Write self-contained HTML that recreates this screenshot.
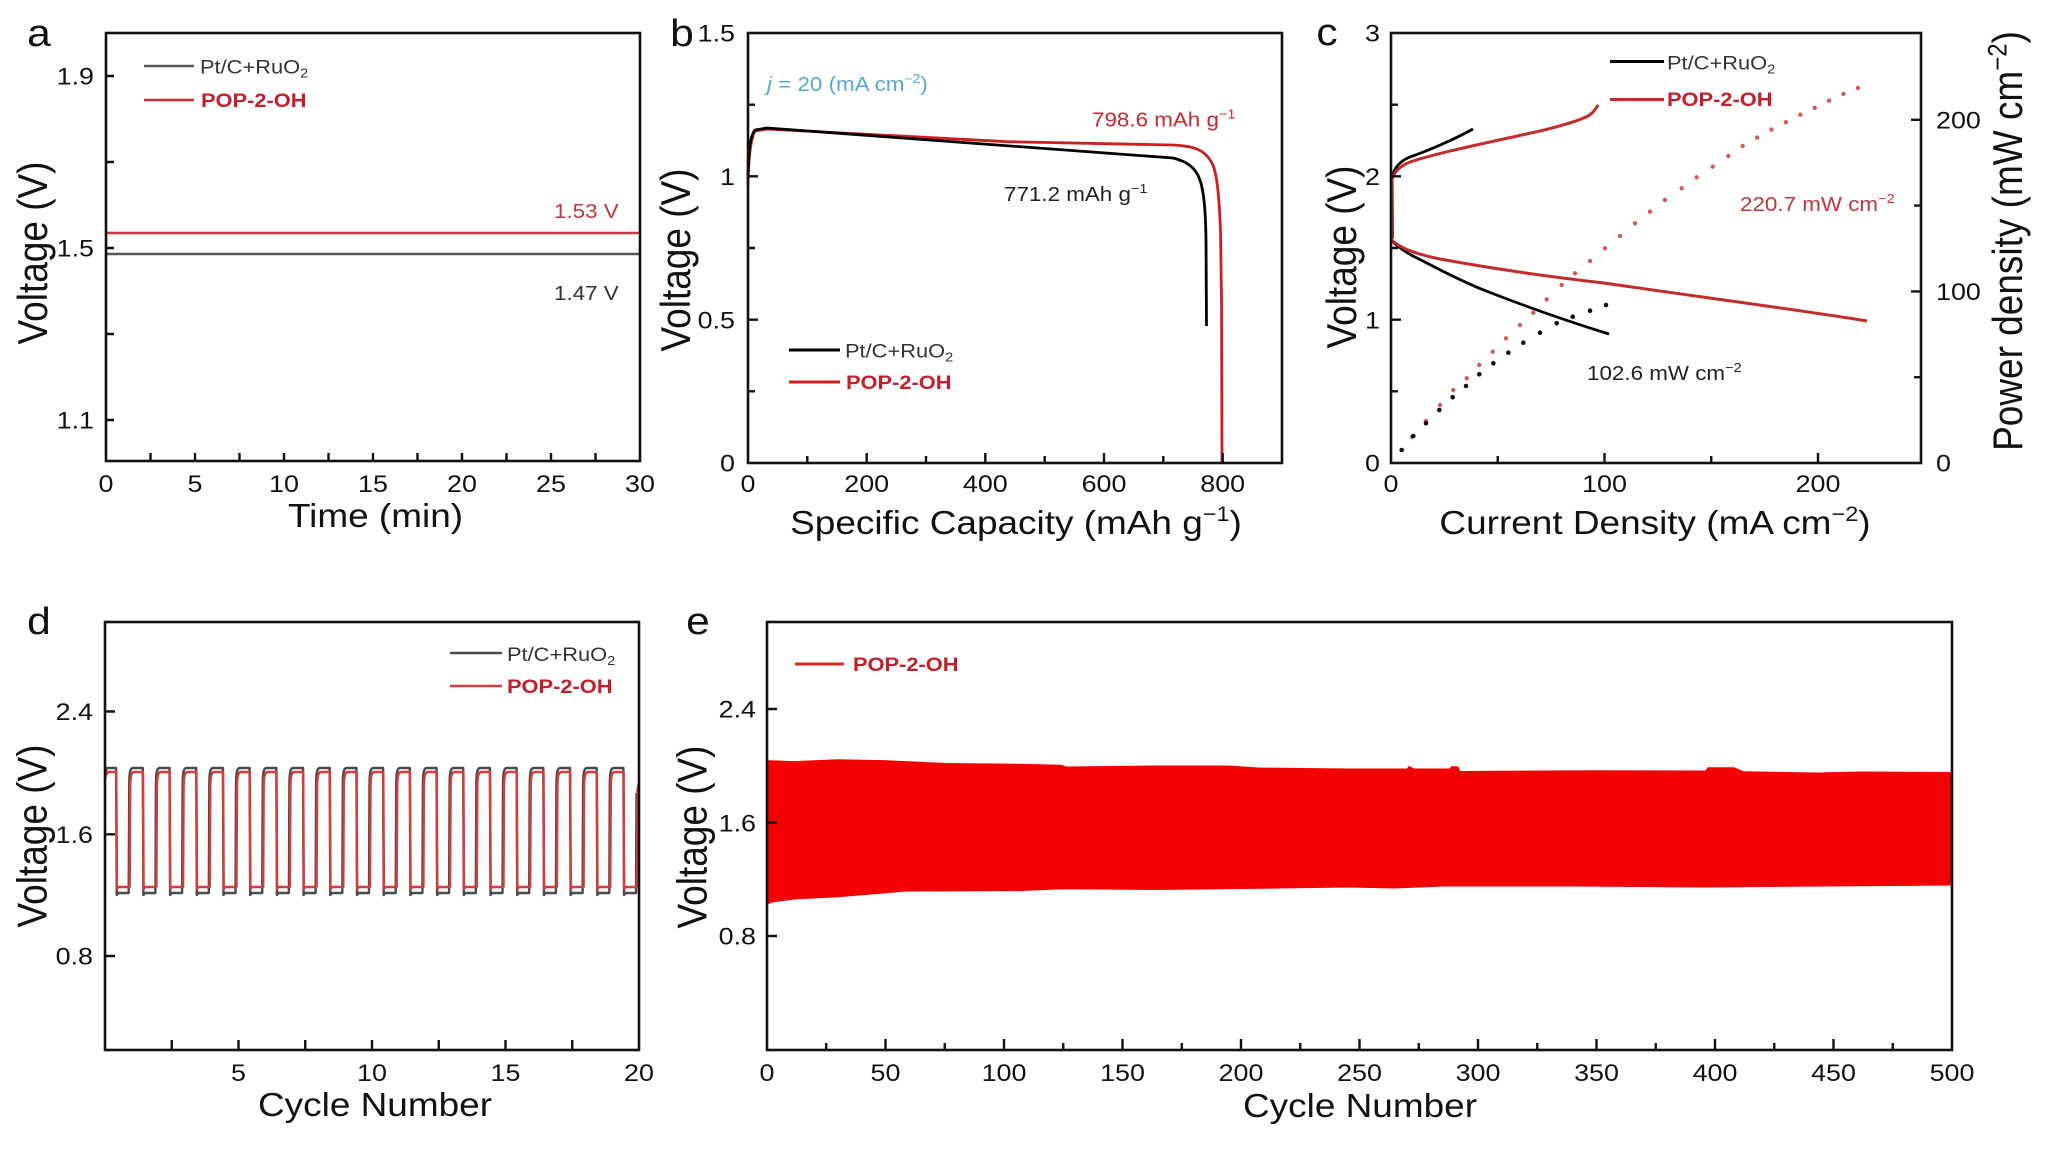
<!DOCTYPE html>
<html><head><meta charset="utf-8"><style>
html,body{margin:0;padding:0;background:#fff;}
svg{display:block;}
text{font-family:"Liberation Sans",Arial,sans-serif;}
.tk{font-size:24px;fill:#111}
.xt{font-size:33px;fill:#111}
.yt{font-size:37px;fill:#111}
.lg{font-size:19.5px;fill:#333}
.lgr{font-size:19.5px;font-weight:bold;fill:#c41e2a}
.an{font-size:20px}
.pl{font-size:38px;fill:#111}
.fr{fill:none;stroke:#111;stroke-width:2.6}
.tc{fill:none;stroke:#111;stroke-width:2.4}
</style></head><body>
<svg width="2048" height="1151" viewBox="0 0 2048 1151" xmlns="http://www.w3.org/2000/svg">
<rect width="2048" height="1151" fill="#fff"/>

<!-- ================= Panel a ================= -->
<line x1="106" y1="233" x2="640" y2="233" stroke="#c8323c" stroke-width="2.6"/>
<line x1="106" y1="254" x2="640" y2="254" stroke="#555" stroke-width="2.6"/>
<rect class="fr" x="106" y="33" width="534" height="428"/>
<path class="tc" d="M150.5,461v-8M195,461v-8M239.5,461v-8M284,461v-8M328.5,461v-8M373,461v-8M417.5,461v-8M462,461v-8M506.5,461v-8M551,461v-8M595.5,461v-8M106,420h8M106,334h8M106,248h8M106,162h8M106,76h8"/>
<g class="tk" text-anchor="middle">
<text transform="translate(106 492) scale(1.12 1)">0</text>
<text transform="translate(195 492) scale(1.12 1)">5</text>
<text transform="translate(284 492) scale(1.12 1)">10</text>
<text transform="translate(373 492) scale(1.12 1)">15</text>
<text transform="translate(462 492) scale(1.12 1)">20</text>
<text transform="translate(551 492) scale(1.12 1)">25</text>
<text transform="translate(640 492) scale(1.12 1)">30</text>
</g>
<g class="tk" text-anchor="end">
<text transform="translate(94 428.6) scale(1.12 1)">1.1</text>
<text transform="translate(94 256.6) scale(1.12 1)">1.5</text>
<text transform="translate(94 84.6) scale(1.12 1)">1.9</text>
</g>
<text class="xt" text-anchor="middle" transform="translate(375.5 527) scale(1.12 1)">Time (min)</text>
<text class="yt" text-anchor="middle" transform="translate(47 253) scale(1.12 1) rotate(-90)">Voltage (V)</text>
<text class="pl" text-anchor="middle" transform="translate(39 46) scale(1.12 1)">a</text>
<line x1="144" y1="66" x2="194" y2="66" stroke="#555" stroke-width="2.6"/>
<text class="lg" transform="translate(200 73.5) scale(1.12 1)">Pt/C+RuO<tspan dy="4" font-size="13">2</tspan></text>
<line x1="144" y1="100" x2="194" y2="100" stroke="#c8323c" stroke-width="2.6"/>
<text class="lgr" transform="translate(201 107) scale(1.12 1)">POP-2-OH</text>
<text class="an" fill="#c0363b" font-size="19" transform="translate(554 218) scale(1.12 1)">1.53 V</text>
<text class="an" fill="#333" font-size="19" transform="translate(554 300) scale(1.12 1)">1.47 V</text>

<!-- ================= Panel b ================= -->
<path fill="none" stroke="#d01c1c" stroke-width="2.8" d="M748,185 C748.5,160 750,140 755,131 L767,129 L1007,141.7 L1173,145 C1195,146 1205,150 1212,163 C1217,173 1219,195 1220.5,230 L1221.5,300 L1222,463"/>
<path fill="none" stroke="#000" stroke-width="2.8" d="M748,178 C748.5,150 750,136 755,130 L767,128 L1173,158 C1185,161 1195,166 1200,180 C1204,192 1205.5,210 1206,240 L1206.5,326"/>
<rect class="fr" x="748" y="33" width="534" height="430"/>
<path class="tc" d="M807.3,463v-7M866.7,463v-10M926,463v-7M985.3,463v-10M1044.7,463v-7M1104,463v-10M1163.3,463v-7M1222.7,463v-10M748,391.3h7M748,319.7h10M748,248h7M748,176.3h10M748,104.7h7"/>
<g class="tk" text-anchor="middle">
<text transform="translate(748 492) scale(1.12 1)">0</text>
<text transform="translate(866.7 492) scale(1.12 1)">200</text>
<text transform="translate(985.3 492) scale(1.12 1)">400</text>
<text transform="translate(1104 492) scale(1.12 1)">600</text>
<text transform="translate(1222.7 492) scale(1.12 1)">800</text>
</g>
<g class="tk" text-anchor="end">
<text transform="translate(735 41.6) scale(1.12 1)">1.5</text>
<text transform="translate(735 185) scale(1.12 1)">1</text>
<text transform="translate(735 328.3) scale(1.12 1)">0.5</text>
<text transform="translate(735 471.6) scale(1.12 1)">0</text>
</g>
<text class="xt" text-anchor="middle" transform="translate(1016 534) scale(1.12 1)">Specific Capacity (mAh g<tspan dy="-13" font-size="21">−1</tspan><tspan dy="13">)</tspan></text>
<text class="yt" text-anchor="middle" transform="translate(690 260) scale(1.12 1) rotate(-90)">Voltage (V)</text>
<text class="pl" text-anchor="middle" transform="translate(682 46) scale(1.12 1)">b</text>
<text class="an" fill="#55a9d1" font-size="19.5" transform="translate(767 91) scale(1.12 1)"><tspan font-style="italic">j</tspan> = 20 (mA cm<tspan dy="-8" font-size="12.5">−2</tspan><tspan dy="8">)</tspan></text>
<text class="an" fill="#c8282d" transform="translate(1092 126.5) scale(1.12 1)">798.6 mAh g<tspan dy="-8" font-size="13">−1</tspan></text>
<text class="an" fill="#222" transform="translate(1004 201) scale(1.12 1)">771.2 mAh g<tspan dy="-8" font-size="13">−1</tspan></text>
<line x1="789" y1="350" x2="840" y2="350" stroke="#000" stroke-width="3"/>
<text class="lg" fill="#222" transform="translate(845 357.5) scale(1.12 1)">Pt/C+RuO<tspan dy="4" font-size="13">2</tspan></text>
<line x1="789" y1="382" x2="840" y2="382" stroke="#d01c1c" stroke-width="3"/>
<text class="lgr" transform="translate(846 389) scale(1.12 1)">POP-2-OH</text>

<!-- ================= Panel c ================= -->
<g fill="#d25a5a">
<circle cx="1412" cy="437" r="2.2"/><circle cx="1426" cy="421" r="2.2"/><circle cx="1440" cy="405" r="2.2"/><circle cx="1453.3" cy="390" r="2.2"/><circle cx="1466.7" cy="378.3" r="2.2"/><circle cx="1479.3" cy="365" r="2.2"/><circle cx="1492.7" cy="351.7" r="2.2"/><circle cx="1506" cy="338.3" r="2.2"/><circle cx="1520" cy="325" r="2.2"/><circle cx="1533.3" cy="312.7" r="2.2"/><circle cx="1546.7" cy="299.3" r="2.2"/><circle cx="1561.7" cy="285" r="2.2"/><circle cx="1575" cy="273.3" r="2.2"/><circle cx="1590" cy="261" r="2.2"/><circle cx="1605" cy="248.3" r="2.2"/><circle cx="1620" cy="236" r="2.2"/><circle cx="1635" cy="223.3" r="2.2"/><circle cx="1650" cy="211.7" r="2.2"/><circle cx="1665" cy="200" r="2.2"/><circle cx="1681.7" cy="188.3" r="2.2"/><circle cx="1696.7" cy="177.3" r="2.2"/><circle cx="1712.7" cy="166.7" r="2.2"/><circle cx="1728.3" cy="156" r="2.2"/><circle cx="1742.7" cy="146" r="2.2"/><circle cx="1757.1" cy="137.6" r="2.2"/><circle cx="1771.5" cy="129.6" r="2.2"/><circle cx="1785.9" cy="122.2" r="2.2"/><circle cx="1800.3" cy="114.7" r="2.2"/><circle cx="1814.7" cy="107.8" r="2.2"/><circle cx="1829.1" cy="100.7" r="2.2"/><circle cx="1843.5" cy="93.9" r="2.2"/><circle cx="1857.9" cy="88" r="2.2"/>
</g>
<g fill="#111">
<circle cx="1401.7" cy="450" r="2.3"/><circle cx="1413.3" cy="436" r="2.3"/><circle cx="1426" cy="423.3" r="2.3"/><circle cx="1439.3" cy="410" r="2.3"/><circle cx="1452.7" cy="397.3" r="2.3"/><circle cx="1466" cy="386" r="2.3"/><circle cx="1479.3" cy="374.3" r="2.3"/><circle cx="1493.3" cy="363.3" r="2.3"/><circle cx="1508.3" cy="352.7" r="2.3"/><circle cx="1523.3" cy="342.7" r="2.3"/><circle cx="1540" cy="332.7" r="2.3"/><circle cx="1556.7" cy="323.3" r="2.3"/><circle cx="1572.7" cy="316.7" r="2.3"/><circle cx="1590" cy="310.7" r="2.3"/><circle cx="1606" cy="305" r="2.3"/>
</g>
<path fill="none" stroke="#000" stroke-width="2.8" d="M1392.5,238 L1392,180 C1393,168 1400,161 1410,157 C1430,150 1455,139 1473,129"/>
<path fill="none" stroke="#000" stroke-width="2.8" d="M1391,239.5 C1398,248 1410,255 1423,261 C1440,270 1465,283 1490,292.5 C1530,308 1570,322 1609,334"/>
<path fill="none" stroke="#c42c2c" stroke-width="3" d="M1392,240 L1391.5,182 C1393,172 1400,166 1410,162 C1440,152 1500,140 1540,131 C1565,125 1580,120 1588,116 C1593,113 1596,109 1598.1,104.8"/>
<path fill="none" stroke="#c42c2c" stroke-width="3" d="M1391,239.5 C1400,248 1415,254 1440,259 C1500,270 1560,278 1604,283 C1700,297 1800,310 1867,321"/>
<rect class="fr" x="1391" y="33" width="530" height="430"/>
<path class="tc" d="M1497.75,463v-7M1604.5,463v-10M1711.25,463v-7M1818,463v-10M1391,391.3h7M1391,319.7h10M1391,248h7M1391,176.3h10M1391,104.7h7M1921,377.2h-7M1921,291.4h-10M1921,205.6h-7M1921,119.8h-10"/>
<g class="tk" text-anchor="middle">
<text transform="translate(1391 492) scale(1.12 1)">0</text>
<text transform="translate(1604.5 492) scale(1.12 1)">100</text>
<text transform="translate(1818 492) scale(1.12 1)">200</text>
</g>
<g class="tk" text-anchor="end">
<text transform="translate(1380 41.6) scale(1.12 1)">3</text>
<text transform="translate(1380 185) scale(1.12 1)">2</text>
<text transform="translate(1380 328.3) scale(1.12 1)">1</text>
<text transform="translate(1380 471.6) scale(1.12 1)">0</text>
</g>
<g class="tk">
<text transform="translate(1936 471.6) scale(1.12 1)">0</text>
<text transform="translate(1936 300) scale(1.12 1)">100</text>
<text transform="translate(1936 128.6) scale(1.12 1)">200</text>
</g>
<text class="xt" text-anchor="middle" transform="translate(1655 534) scale(1.12 1)">Current Density (mA cm<tspan dy="-13" font-size="21">−2</tspan><tspan dy="13">)</tspan></text>
<text class="yt" text-anchor="middle" transform="translate(1356 257) scale(1.12 1) rotate(-90)">Voltage (V)</text>
<text class="yt" font-size="37.5" text-anchor="middle" transform="translate(2022 241) scale(1.12 1) rotate(-90)">Power density (mW cm<tspan dy="-14" font-size="24">−2</tspan><tspan dy="14">)</tspan></text>
<text class="pl" text-anchor="middle" transform="translate(1327 45) scale(1.12 1)">c</text>
<line x1="1610" y1="61.5" x2="1664" y2="61.5" stroke="#000" stroke-width="3"/>
<text class="lg" fill="#222" transform="translate(1667 69.5) scale(1.12 1)">Pt/C+RuO<tspan dy="4" font-size="13">2</tspan></text>
<line x1="1610" y1="99.5" x2="1664" y2="99.5" stroke="#c42c2c" stroke-width="3"/>
<text class="lgr" transform="translate(1667 106) scale(1.12 1)">POP-2-OH</text>
<text class="an" fill="#c0363b" font-size="19.7" transform="translate(1740 211) scale(1.12 1)">220.7 mW cm<tspan dy="-8" font-size="13">−2</tspan></text>
<text class="an" fill="#222" font-size="19.8" transform="translate(1587 380) scale(1.12 1)">102.6 mW cm<tspan dy="-8" font-size="13">−2</tspan></text>

<!-- ================= Panel d ================= -->
<path fill="none" stroke="#4a4a4a" stroke-width="2.4" stroke-linejoin="round" d="M105,775 L106.5,768 h9.6 l0.6,127 l1.4,-2 h10.6 l0.5,-107 c0,-14 1,-18 4,-18 h9.6 l0.6,127 l1.4,-2 h10.6 l0.5,-107 c0,-14 1,-18 4,-18 h9.6 l0.6,127 l1.4,-2 h10.6 l0.5,-107 c0,-14 1,-18 4,-18 h9.6 l0.6,127 l1.4,-2 h10.6 l0.5,-107 c0,-14 1,-18 4,-18 h9.6 l0.6,127 l1.4,-2 h10.6 l0.5,-107 c0,-14 1,-18 4,-18 h9.6 l0.6,127 l1.4,-2 h10.6 l0.5,-107 c0,-14 1,-18 4,-18 h9.6 l0.6,127 l1.4,-2 h10.6 l0.5,-107 c0,-14 1,-18 4,-18 h9.6 l0.6,127 l1.4,-2 h10.6 l0.5,-107 c0,-14 1,-18 4,-18 h9.6 l0.6,127 l1.4,-2 h10.6 l0.5,-107 c0,-14 1,-18 4,-18 h9.6 l0.6,127 l1.4,-2 h10.6 l0.5,-107 c0,-14 1,-18 4,-18 h9.6 l0.6,127 l1.4,-2 h10.6 l0.5,-107 c0,-14 1,-18 4,-18 h9.6 l0.6,127 l1.4,-2 h10.6 l0.5,-107 c0,-14 1,-18 4,-18 h9.6 l0.6,127 l1.4,-2 h10.6 l0.5,-107 c0,-14 1,-18 4,-18 h9.6 l0.6,127 l1.4,-2 h10.6 l0.5,-107 c0,-14 1,-18 4,-18 h9.6 l0.6,127 l1.4,-2 h10.6 l0.5,-107 c0,-14 1,-18 4,-18 h9.6 l0.6,127 l1.4,-2 h10.6 l0.5,-107 c0,-14 1,-18 4,-18 h9.6 l0.6,127 l1.4,-2 h10.6 l0.5,-107 c0,-14 1,-18 4,-18 h9.6 l0.6,127 l1.4,-2 h10.6 l0.5,-107 c0,-14 1,-18 4,-18 h9.6 l0.6,127 l1.4,-2 h10.6 l0.5,-107 c0,-14 1,-18 4,-18 h9.6 l0.6,127 l1.4,-2 h10.6 l0.5,-100"/>
<path fill="none" stroke="#d43c3f" stroke-width="2.4" stroke-linejoin="round" d="M105,778 L107.5,772 h8.8 l0.6,117 l1.4,-2 h11.4 l0.5,-97 c0,-14 1,-18 4,-18 h8.8 l0.6,117 l1.4,-2 h11.4 l0.5,-97 c0,-14 1,-18 4,-18 h8.8 l0.6,117 l1.4,-2 h11.4 l0.5,-97 c0,-14 1,-18 4,-18 h8.8 l0.6,117 l1.4,-2 h11.4 l0.5,-97 c0,-14 1,-18 4,-18 h8.8 l0.6,117 l1.4,-2 h11.4 l0.5,-97 c0,-14 1,-18 4,-18 h8.8 l0.6,117 l1.4,-2 h11.4 l0.5,-97 c0,-14 1,-18 4,-18 h8.8 l0.6,117 l1.4,-2 h11.4 l0.5,-97 c0,-14 1,-18 4,-18 h8.8 l0.6,117 l1.4,-2 h11.4 l0.5,-97 c0,-14 1,-18 4,-18 h8.8 l0.6,117 l1.4,-2 h11.4 l0.5,-97 c0,-14 1,-18 4,-18 h8.8 l0.6,117 l1.4,-2 h11.4 l0.5,-97 c0,-14 1,-18 4,-18 h8.8 l0.6,117 l1.4,-2 h11.4 l0.5,-97 c0,-14 1,-18 4,-18 h8.8 l0.6,117 l1.4,-2 h11.4 l0.5,-97 c0,-14 1,-18 4,-18 h8.8 l0.6,117 l1.4,-2 h11.4 l0.5,-97 c0,-14 1,-18 4,-18 h8.8 l0.6,117 l1.4,-2 h11.4 l0.5,-97 c0,-14 1,-18 4,-18 h8.8 l0.6,117 l1.4,-2 h11.4 l0.5,-97 c0,-14 1,-18 4,-18 h8.8 l0.6,117 l1.4,-2 h11.4 l0.5,-97 c0,-14 1,-18 4,-18 h8.8 l0.6,117 l1.4,-2 h11.4 l0.5,-97 c0,-14 1,-18 4,-18 h8.8 l0.6,117 l1.4,-2 h11.4 l0.5,-97 c0,-14 1,-18 4,-18 h8.8 l0.6,117 l1.4,-2 h11.4 l0.5,-97 c0,-14 1,-18 4,-18 h8.8 l0.6,117 l1.4,-2 h11.4 l0.5,-97 l1,-6"/>
<rect class="fr" x="105" y="622" width="534" height="428"/>
<path class="tc" d="M171.75,1050v-10M238.5,1050v-10M305.25,1050v-10M372,1050v-10M438.75,1050v-10M505.5,1050v-10M572.25,1050v-10M105,711.5h10M105,834.3h10M105,956h10"/>
<g class="tk" text-anchor="middle">
<text transform="translate(238.5 1081) scale(1.12 1)">5</text>
<text transform="translate(372 1081) scale(1.12 1)">10</text>
<text transform="translate(505.5 1081) scale(1.12 1)">15</text>
<text transform="translate(639 1081) scale(1.12 1)">20</text>
</g>
<g class="tk" text-anchor="end">
<text transform="translate(93 720) scale(1.12 1)">2.4</text>
<text transform="translate(93 843) scale(1.12 1)">1.6</text>
<text transform="translate(93 964.6) scale(1.12 1)">0.8</text>
</g>
<text class="xt" text-anchor="middle" transform="translate(375 1116) scale(1.12 1)">Cycle Number</text>
<text class="yt" text-anchor="middle" transform="translate(46.5 836) scale(1.12 1) rotate(-90)">Voltage (V)</text>
<text class="pl" text-anchor="middle" transform="translate(39 634) scale(1.12 1)">d</text>
<line x1="450" y1="653" x2="502" y2="653" stroke="#4a4a4a" stroke-width="2.6"/>
<text class="lg" transform="translate(507 661) scale(1.12 1)">Pt/C+RuO<tspan dy="4" font-size="13">2</tspan></text>
<line x1="450" y1="686" x2="502" y2="686" stroke="#d43c3f" stroke-width="2.6"/>
<text class="lgr" transform="translate(507 693) scale(1.12 1)">POP-2-OH</text>

<!-- ================= Panel e ================= -->
<polygon fill="#f40000" stroke="#f40000" stroke-width="1" points="767,760.6 794,761.6 838,759.8 883,760.6 947,763.5 1018,764.2 1061,765.3 1066,767 1153,766 1229,766 1258,768 1348,769 1407,769 1409,766.5 1414,769 1449.6,769 1452,766.5 1458,767 1460,771.5 1594,770.7 1705.5,771 1708,767.8 1734,767.8 1743.5,771.8 1819,773 1859.6,772 1952,772.6 1952,885 1705.5,887 1573,886 1445,886 1395,888 1348,887 1243,888.5 1153,889.5 1063,888.8 1018,890.6 906,891 883,893 838,896.8 794,899 772,902 767,904"/>
<rect class="fr" x="767" y="622" width="1185" height="428"/>
<path class="tc" d="M826.25,1050v-7M885.5,1050v-11M944.75,1050v-7M1004,1050v-11M1063.25,1050v-7M1122.5,1050v-11M1181.75,1050v-7M1241,1050v-11M1300.25,1050v-7M1359.5,1050v-11M1418.75,1050v-7M1478,1050v-11M1537.25,1050v-7M1596.5,1050v-11M1655.75,1050v-7M1715,1050v-11M1774.25,1050v-7M1833.5,1050v-11M1892.75,1050v-7M767,709h10M767,822.7h10M767,936h10"/>
<g class="tk" text-anchor="middle">
<text transform="translate(767 1081) scale(1.12 1)">0</text>
<text transform="translate(885.5 1081) scale(1.12 1)">50</text>
<text transform="translate(1004 1081) scale(1.12 1)">100</text>
<text transform="translate(1122.5 1081) scale(1.12 1)">150</text>
<text transform="translate(1241 1081) scale(1.12 1)">200</text>
<text transform="translate(1359.5 1081) scale(1.12 1)">250</text>
<text transform="translate(1478 1081) scale(1.12 1)">300</text>
<text transform="translate(1596.5 1081) scale(1.12 1)">350</text>
<text transform="translate(1715 1081) scale(1.12 1)">400</text>
<text transform="translate(1833.5 1081) scale(1.12 1)">450</text>
<text transform="translate(1952 1081) scale(1.12 1)">500</text>
</g>
<g class="tk" text-anchor="end">
<text transform="translate(756 717.6) scale(1.12 1)">2.4</text>
<text transform="translate(756 831.3) scale(1.12 1)">1.6</text>
<text transform="translate(756 944.6) scale(1.12 1)">0.8</text>
</g>
<text class="xt" text-anchor="middle" transform="translate(1360 1117) scale(1.12 1)">Cycle Number</text>
<text class="yt" text-anchor="middle" transform="translate(706.5 837) scale(1.12 1) rotate(-90)">Voltage (V)</text>
<text class="pl" text-anchor="middle" transform="translate(698 634) scale(1.12 1)">e</text>
<line x1="795" y1="664" x2="844" y2="664" stroke="#d42828" stroke-width="3"/>
<text class="lgr" transform="translate(853 671) scale(1.12 1)">POP-2-OH</text>
</svg>
</body></html>
